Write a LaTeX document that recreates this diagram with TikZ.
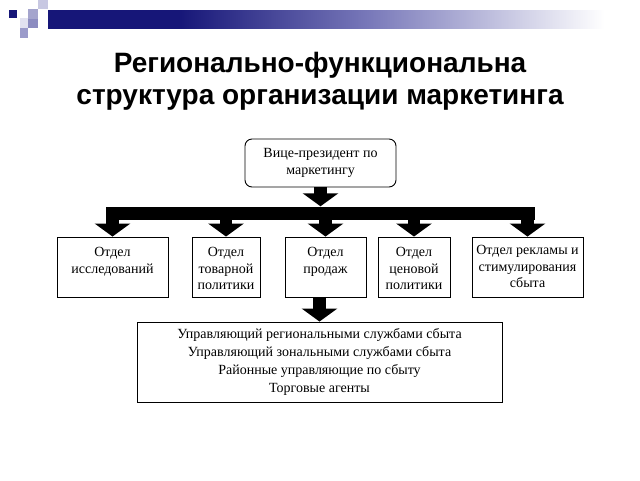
\documentclass[tikz,border=0pt]{standalone}
\usepackage{fontspec}
\setmainfont{Liberation Serif}
\newfontfamily\titlefont{Liberation Sans}
\usetikzlibrary{arrows.meta}
\definecolor{hdrdark}{RGB}{22,22,120}
\definecolor{hdrmid}{RGB}{120,120,185}
\definecolor{sqA}{RGB}{200,200,226}
\definecolor{sqB}{RGB}{165,165,205}
\definecolor{sqC}{RGB}{226,226,240}
\definecolor{sqD}{RGB}{140,140,192}
\definecolor{sqE}{RGB}{155,155,202}
\pgfdeclarehorizontalshading{hdrshade}{100bp}{color(0bp)=(hdrdark); color(25bp)=(hdrdark); color(36bp)=(hdrdark); color(52bp)=(hdrmid); color(72bp)=(white); color(100bp)=(white)}
\tikzset{
  box/.style={draw=black, line width=0.9pt, inner sep=0pt},
  boxtext/.style={font=\fontsize{14}{16.5}\selectfont, align=center, inner sep=0pt, anchor=north},
  blockarrow/.style={line width=12.5pt, -{Triangle[width=35pt,length=13pt]}, black},
  titletext/.style={font=\titlefont\bfseries\fontsize{28}{33}\selectfont, anchor=base},
}
\begin{document}
\begin{tikzpicture}[x=1pt,y=-1pt]
\useasboundingbox (0,0) rectangle (640,480);
% header decoration
\shade[shading=hdrshade] (48,10) rectangle (640,28);
\fill[hdrdark] (9,10) rectangle (17,18);
\fill[sqA] (38,0) rectangle (48,9);
\fill[sqB] (28,9) rectangle (38,19);
\fill[sqC] (20,18) rectangle (28,28);
\fill[sqD] (28,19) rectangle (38,28);
\fill[sqE] (20,28) rectangle (28,38);
% title
\node[titletext] (t1) at (320,72) {Регионально-функциональна};
\node[titletext] (t2) at (320,104) {структура организации маркетинга};
% boxes
\node[box, rounded corners=7pt, minimum width=151pt, minimum height=48pt, align=center, font=\fontsize{14}{17}\selectfont] (vp) at (320.5,163) {Вице-президент по\\маркетингу};
\node[fill=black, minimum width=429pt, minimum height=13pt, inner sep=0pt] (bar) at (320,213) {};
\node[box, minimum width=111pt, minimum height=60pt] (b1) at (112.5,267) {};
\node[box, minimum width=68pt, minimum height=60pt] (b2) at (226,267) {};
\node[box, minimum width=81pt, minimum height=60pt] (b3) at (325.5,267) {};
\node[box, minimum width=72pt, minimum height=60pt] (b4) at (414,267) {};
\node[box, minimum width=111pt, minimum height=60pt] (b5) at (527.5,267) {};
\node[boxtext] (b1t) at ([yshift=-10.5pt]b1.north) {Отдел\\исследований};
\node[boxtext] (b2t) at ([yshift=-10.5pt]b2.north) {Отдел\\товарной\\политики};
\node[boxtext] (b3t) at ([yshift=-10.5pt]b3.north) {Отдел\\продаж};
\node[boxtext] (b4t) at ([yshift=-10.5pt]b4.north) {Отдел\\ценовой\\политики};
\node[boxtext] (b5t) at ([yshift=-8.5pt]b5.north) {Отдел рекламы и\\стимулирования\\сбыта};
\node[box, minimum width=365pt, minimum height=80pt, align=center, font=\fontsize{14}{17.7}\selectfont] (big) at (319.5,362) {Управляющий региональными службами сбыта\\Управляющий зональными службами сбыта\\Районные управляющие по сбыту\\Торговые агенты};
% arrows
\draw[blockarrow] (vp.south) -- (vp.south |- bar.north);
\foreach \b in {b1,b2,b3,b4,b5}{
  \draw[blockarrow] (\b.north |- bar.center) -- (\b.north);
}
\draw[blockarrow] (big.north |- b3.south) -- (big.north);
\end{tikzpicture}
\end{document}
